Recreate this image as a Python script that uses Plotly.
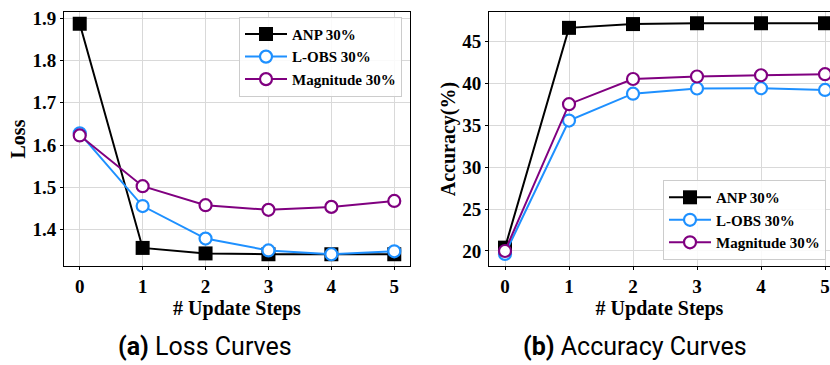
import plotly.graph_objects as go

# Update steps on the x axis
steps = [0, 1, 2, 3, 4, 5]

# Loss after each update step
loss_anp = [1.887, 1.357, 1.344, 1.342, 1.342, 1.342]
loss_lobs = [1.628, 1.456, 1.379, 1.351, 1.342, 1.349]
loss_mag = [1.623, 1.503, 1.458, 1.447, 1.454, 1.468]

# Accuracy (%) after each update step
acc_anp = [20.4, 46.6, 47.05, 47.15, 47.15, 47.15]
acc_lobs = [19.65, 35.55, 38.75, 39.37, 39.4, 39.2]
acc_mag = [20.0, 37.5, 40.5, 40.8, 40.95, 41.08]

series_names = ["ANP 30%", "L-OBS 30%", "Magnitude 30%"]
colors = ["#000000", "#1E90FF", "#800080"]
symbols = ["square", "circle", "circle"]

W, H = 830, 365
SERIF = "Liberation Serif, Times New Roman, serif"


def px_x(p):
    return p / W


def px_y(p):
    return 1 - p / H


fig = go.Figure()

loss_sets = [loss_anp, loss_lobs, loss_mag]
acc_sets = [acc_anp, acc_lobs, acc_mag]


def add_series(ys_sets, xa, ya, legend_id):
    for name, color, sym, ys in zip(series_names, colors, symbols, ys_sets):
        filled = sym == "square"
        fig.add_trace(go.Scatter(
            x=steps, y=ys, name=name, mode="lines+markers",
            xaxis=xa, yaxis=ya, legend=legend_id,
            line=dict(color=color, width=2),
            marker=dict(symbol=sym, size=14 if filled else 12,
                        color=color if filled else "white",
                        line=dict(color=color, width=0 if filled else 2.2)),
            cliponaxis=False,
        ))


add_series(loss_sets, "x", "y", "legend")
add_series(acc_sets, "x2", "y2", "legend2")

tick_font = dict(family=SERIF, size=19, color="black", weight="bold")
title_font = dict(family=SERIF, size=20, color="black", weight="bold")
grid = dict(showgrid=True, gridcolor="#d9d9d9", gridwidth=1, zeroline=False,
            showline=True, linecolor="black", linewidth=1,
            ticks="outside", ticklen=3, tickcolor="black", tickfont=tick_font)

legend_style = dict(
    bgcolor="rgba(255,255,255,0.85)", bordercolor="#cccccc", borderwidth=1,
    font=dict(family=SERIF, size=15, color="black", weight="bold"),
    tracegroupgap=0, itemwidth=42,
)

fig.update_layout(
    width=W, height=H,
    margin=dict(l=0, r=0, t=0, b=0),
    paper_bgcolor="white", plot_bgcolor="white",
    showlegend=True,
    xaxis=dict(domain=[px_x(64), px_x(410)], range=[-0.25, 5.25],
               tickvals=steps, mirror=True, anchor="y",
               title=dict(text="# Update Steps", font=title_font, standoff=2),
               **grid),
    yaxis=dict(domain=[px_y(265), px_y(8)], range=[1.314, 1.915],
               tickvals=[1.4, 1.5, 1.6, 1.7, 1.8, 1.9], tickformat=".1f",
               mirror=True, anchor="x",
               title=dict(text="Loss", font=title_font, standoff=1),
               **grid),
    xaxis2=dict(domain=[px_x(489), 1.0], range=[-0.25, 5.078],
                tickvals=steps, mirror=True, anchor="y2",
                title=dict(text="# Update Steps", font=title_font, standoff=2),
                **grid),
    yaxis2=dict(domain=[px_y(265), px_y(8)], range=[18.2, 48.5],
                tickvals=[20, 25, 30, 35, 40, 45], anchor="x2",
                title=dict(text="Accuracy(%)", font=title_font, standoff=1),
                **grid),
    legend=dict(x=px_x(402), y=px_y(13), xanchor="right", yanchor="top",
                **legend_style),
    legend2=dict(x=px_x(663), y=px_y(178), xanchor="left", yanchor="top",
                 **legend_style),
)

caption_font = dict(family="Roboto, sans-serif", size=25, color="black")
fig.add_annotation(text="<b>(a)</b> Loss Curves", xref="paper", yref="paper",
                   x=px_x(205), y=px_y(346), showarrow=False,
                   xanchor="center", yanchor="middle", font=caption_font)
fig.add_annotation(text="<b>(b)</b> Accuracy Curves", xref="paper", yref="paper",
                   x=px_x(635), y=px_y(346), showarrow=False,
                   xanchor="center", yanchor="middle", font=caption_font)

fig.write_html("out.html")
